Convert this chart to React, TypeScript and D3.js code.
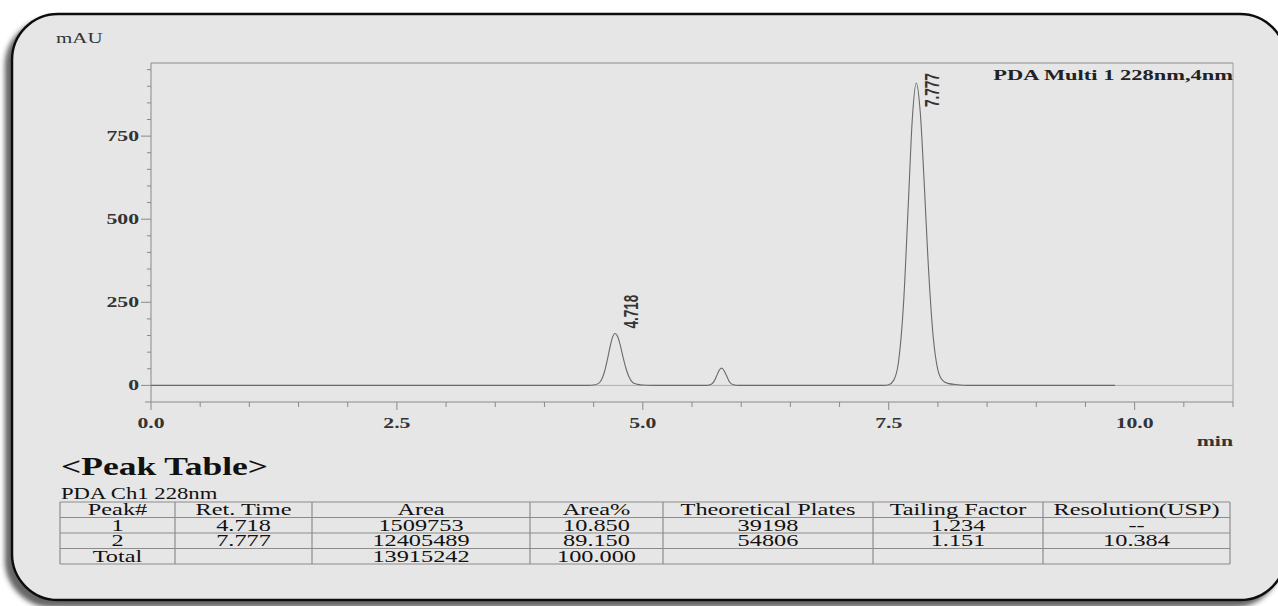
import React from "react";
import * as d3 from "d3";

// ---- chromatogram trace (min, mAU) ----
const traceTime = [
  0.0, 1.0, 2.0, 3.0, 4.0, 4.45,
  4.5, 4.55, 4.58, 4.61, 4.64, 4.67, 4.69, 4.718, 4.74, 4.77, 4.8, 4.83, 4.86, 4.9, 4.95, 5.0, 5.1,
  5.4, 5.65, 5.7, 5.73, 5.76, 5.78, 5.8, 5.82, 5.85, 5.88, 5.92, 5.98,
  6.5, 7.0, 7.45, 7.5, 7.55, 7.6, 7.65, 7.7, 7.74, 7.78, 7.82, 7.86, 7.9, 7.95, 8.0, 8.05, 8.1, 8.2, 8.3,
  9.0, 9.8,
];
const traceMAU = [
  0, 0, 0, 0, 0, 0,
  1, 6, 17, 41, 78, 120, 143, 156, 149, 122, 84, 50, 25, 8, 3, 1, 0,
  0, 0, 4, 15, 35, 47, 52, 47, 30, 11, 2, 0,
  0, 0, 0, 2, 15, 72, 243, 552, 803, 910, 824, 613, 374, 153, 46, 14, 6, 2, 0,
  0, 0,
];

const peakRT = [4.718, 7.777];
const peakLabels = ["4.718", "7.777"];
const peakTopMAU = [156, 910];

const xTickValues = [0, 2.5, 5, 7.5, 10];
const xTickLabels = ["0.0", "2.5", "5.0", "7.5", "10.0"];
const yTickValues = [0, 250, 500, 750];
const yTickLabels = ["0", "250", "500", "750"];

const tableHeaders = ["Peak#", "Ret. Time", "Area", "Area%", "Theoretical Plates", "Tailing Factor", "Resolution(USP)"];
const peakNumbers = ["1", "2"];
const retTimes = ["4.718", "7.777"];
const areas = ["1509753", "12405489"];
const areaPercents = ["10.850", "89.150"];
const theoreticalPlates = ["39198", "54806"];
const tailingFactors = ["1.234", "1.151"];
const resolutions = ["--", "10.384"];
const totalRow = ["Total", "", "13915242", "100.000", "", "", ""];

const SERIF = "'Liberation Serif','Times New Roman',serif";
const SANS = "'Liberation Sans',Arial,sans-serif";
const SX = 1.45;

function T({ x, y, anchor = "start", size, weight = "normal", sx = SX, fill = "#1c1c1c", family = SERIF, children }: any) {
  return (
    <text
      transform={`translate(${x},${y}) scale(${sx},1)`}
      textAnchor={anchor}
      fontSize={size}
      fontWeight={weight}
      fontFamily={family}
      fill={fill}
    >
      {children}
    </text>
  );
}

export default function App() {
  const W = 1278;
  const H = 606;
  const x = d3.scaleLinear().domain([0, 11]).range([151, 1233]);
  const y = d3.scaleLinear().domain([-50, 970]).range([402, 63]);
  const [x0, x1] = x.range();
  const [yB, yT] = y.range();

  const line = d3
    .line<number>()
    .x((_, i) => x(traceTime[i]))
    .y((d) => y(d))
    .curve(d3.curveMonotoneX);

  const xMinor = d3.range(0, 11.01, 0.5);
  const yMinor = d3.range(0, 951, 50);

  const colBounds = [60, 175, 312, 530, 663, 873, 1043, 1230];
  const rowLines = [502, 517.5, 533, 548.5, 564];
  const rows = [
    tableHeaders,
    [peakNumbers[0], retTimes[0], areas[0], areaPercents[0], theoreticalPlates[0], tailingFactors[0], resolutions[0]],
    [peakNumbers[1], retTimes[1], areas[1], areaPercents[1], theoreticalPlates[1], tailingFactors[1], resolutions[1]],
    totalRow,
  ];

  return (
    <svg width={W} height={H} style={{ position: "absolute", left: 0, top: 0, display: "block", background: "#fff" }}>
      <defs>
        <filter id="sh" x="-5%" y="-5%" width="110%" height="110%">
          <feDropShadow dx={-6} dy={6} stdDeviation={2.5} floodColor="#333" floodOpacity={0.75} />
        </filter>
      </defs>
      <rect x={12} y={14} width={1274} height={586} rx={46} ry={46} fill="#e6e6e6" stroke="#111" strokeWidth={2.5} filter="url(#sh)" />

      {/* plot frame */}
      <line x1={x0} x2={x1} y1={yT} y2={yT} stroke="#a8a8a8" strokeWidth={1.5} />
      <line x1={x1} x2={x1} y1={yT} y2={yB} stroke="#a0a0a0" strokeWidth={1} />
      <line x1={x0} x2={x0} y1={yT} y2={yB} stroke="#8a8a8a" strokeWidth={1} />
      <line x1={x0 - 6} x2={x1} y1={yB} y2={yB} stroke="#8a8a8a" strokeWidth={1} />
      {/* zero line */}
      <line x1={x0} x2={x1} y1={y(0)} y2={y(0)} stroke="#b0b0b0" strokeWidth={1} />

      {/* y ticks */}
      {yMinor.map((v) => (
        <line key={"ym" + v} x1={x0 - (v % 250 === 0 ? 10 : 4)} x2={x0} y1={y(v)} y2={y(v)} stroke="#8a8a8a" strokeWidth={1} />
      ))}
      {yTickValues.map((v, i) => (
        <T key={"yl" + v} x={139} y={y(v) + 5} anchor="end" size={14.5} weight="bold" sx={1.5} fill="#333">
          {yTickLabels[i]}
        </T>
      ))}
      <T x={56} y={43} size={15} sx={1.4} fill="#333">mAU</T>

      {/* x ticks */}
      {xMinor.map((v) => (
        <line key={"xm" + v} x1={x(v)} x2={x(v)} y1={yB} y2={yB + (v % 2.5 === 0 ? 8 : 5)} stroke="#8a8a8a" strokeWidth={1} />
      ))}
      {xTickValues.map((v, i) => (
        <T key={"xl" + v} x={x(v)} y={428} anchor="middle" size={14.5} weight="bold" sx={1.5} fill="#333">
          {xTickLabels[i]}
        </T>
      ))}
      <T x={1233} y={446} anchor="end" size={14.5} sx={1.5} fill="#333" weight="bold">min</T>

      {/* trace */}
      <path d={line(traceMAU) || ""} fill="none" stroke="#6a6a6a" strokeWidth={1.1} />

      {/* peak labels */}
      {peakRT.map((rt, i) => {
        const len = 36;
        const ys = Math.max(y(peakTopMAU[i]) - 5, yT + 8 + len);
        return (
          <text
            key={"pl" + i}
            transform={`translate(${x(rt) + 16.5},${ys}) scale(1.45,1) rotate(-90)`}
            dominantBaseline="central"
            fontSize={13.5}
            fontFamily={SANS}
            fontWeight="bold"
            fill="#333"
          >
            {peakLabels[i]}
          </text>
        );
      })}

      <T x={1233} y={80} anchor="end" size={15.5} sx={1.45} fill="#222" weight="bold">PDA Multi 1 228nm,4nm</T>

      {/* peak table */}
      <T x={61} y={475} size={25} weight="bold" sx={1.42} fill="#111">&lt;Peak Table&gt;</T>
      <T x={61} y={499} size={16} sx={1.42} fill="#111">PDA Ch1 228nm</T>

      {rowLines.map((ry, i) => (
        <line key={"rl" + i} x1={colBounds[0]} x2={colBounds[colBounds.length - 1]} y1={ry} y2={ry} stroke="#8c8c8c" strokeWidth={1.2} />
      ))}
      {colBounds.map((cx, i) => (
        <line key={"cl" + i} x1={cx} x2={cx} y1={rowLines[0]} y2={rowLines[rowLines.length - 1]} stroke="#8c8c8c" strokeWidth={1.2} />
      ))}
      {rows.map((r, ri) =>
        r.map((cell, ci) =>
          cell ? (
            <T
              key={`c${ri}-${ci}`}
              x={(colBounds[ci] + colBounds[ci + 1]) / 2}
              y={rowLines[ri + 1] - 2.5}
              anchor="middle"
              size={16}
              sx={1.52}
              fill="#111"
            >
              {cell}
            </T>
          ) : null
        )
      )}
    </svg>
  );
}
